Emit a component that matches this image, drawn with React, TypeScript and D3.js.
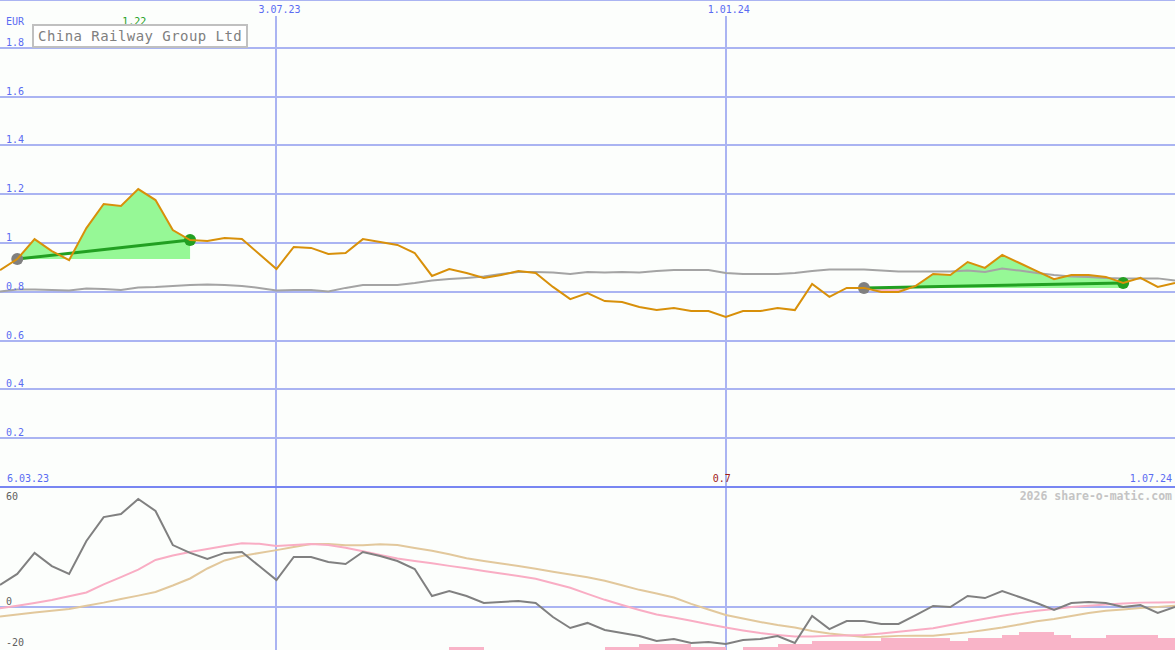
import * as d3 from "d3";

const W = 1175;
const H = 650;

// weekly closes, Mondays 13.03.23 .. 1.07.24
const start = new Date(Date.UTC(2023, 2, 13));
const end = new Date(Date.UTC(2024, 6, 1));
const weeks = d3.utcMonday.range(start, d3.utcDay.offset(end, 1));

const price = [
  0.889, 0.934, 1.016, 0.967, 0.93, 1.061, 1.16, 1.152, 1.221, 1.176,
  1.053, 1.012, 1.008, 1.02, 1.016, 0.955, 0.893, 0.984, 0.98, 0.955,
  0.959, 1.016, 1.004, 0.992, 0.959, 0.865, 0.893, 0.877, 0.857, 0.869,
  0.885, 0.877, 0.82, 0.77, 0.795, 0.762, 0.758, 0.738, 0.725, 0.734,
  0.721, 0.721, 0.697, 0.721, 0.721, 0.734, 0.725, 0.832, 0.779, 0.816,
  0.816, 0.799, 0.799, 0.824, 0.873, 0.869, 0.922, 0.898, 0.951, 0.918,
  0.885, 0.852, 0.869, 0.869, 0.861, 0.836, 0.857, 0.82, 0.836,
];

const benchmark = [
  0.801, 0.809, 0.809, 0.807, 0.805, 0.814, 0.811, 0.807, 0.818, 0.82,
  0.824, 0.828, 0.83, 0.828, 0.824, 0.816, 0.805, 0.807, 0.807, 0.801,
  0.816, 0.828, 0.828, 0.828, 0.836, 0.846, 0.852, 0.857, 0.863, 0.873,
  0.881, 0.881, 0.879, 0.873, 0.881, 0.879, 0.881, 0.879, 0.885, 0.889,
  0.889, 0.889, 0.877, 0.873, 0.873, 0.873, 0.877, 0.885, 0.891, 0.891,
  0.891, 0.887, 0.883, 0.883, 0.883, 0.883, 0.887, 0.881, 0.895, 0.887,
  0.877, 0.869, 0.863, 0.861, 0.857, 0.855, 0.855, 0.855, 0.846,
];

const momentum = [
  12.6, 18.9, 30.9, 23.4, 18.9, 37.7, 51.4, 53.1, 61.7, 54.9,
  35.4, 30.9, 27.4, 30.9, 31.4, 23.4, 15.4, 28.6, 28.6, 25.7,
  24.6, 31.4, 29.1, 26.3, 21.7, 6.3, 9.1, 6.3, 2.3, 2.9,
  3.4, 2.3, -5.7, -12, -9.1, -13.1, -14.9, -16.6, -19.4, -18.3,
  -20.6, -20, -21.1, -18.9, -18.3, -16.6, -20.6, -5.1, -12.6, -8,
  -8, -9.7, -9.7, -4.6, 0.6, 0, 6.3, 5.1, 9.1, 5.7,
  2.3, -1.7, 2.3, 2.9, 2.3, 0, 1.1, -3.4, 0,
];

const signalFast = [
  -0.7, 0.7, 2.3, 4, 6.1, 8.3, 12.9, 17.1, 21.4, 26.9,
  29.4, 31.4, 33.1, 34.9, 36.4, 36.1, 34.9, 35.4, 36, 35.4,
  33.8, 31.8, 29.7, 27.7, 26.3, 25, 23.5, 22.2, 20.6, 19.1,
  17.7, 16.1, 13.6, 11, 7.5, 4.1, 1.1, -1.7, -4.3, -6,
  -7.8, -9.8, -11.7, -13.4, -14.9, -16, -16.9, -16.9, -16.5, -16.3,
  -16, -15.2, -14.2, -13.1, -12.2, -10.3, -8.4, -6.7, -5, -3.5,
  -2.2, -1.1, 0, 0.7, 1.4, 2, 2.5, 2.6, 2.7,
];

const signalSlow = [
  -5.5, -4.3, -3.1, -2.2, -1.1, 0.7, 2.5, 4.6, 6.5, 8.6,
  12.3, 16.3, 22, 26.6, 29.1, 30.9, 32.5, 34.3, 36, 36,
  35.3, 35.3, 35.9, 35.4, 33.7, 32.2, 30.1, 27.9, 26.3, 24.9,
  23.4, 21.9, 20.2, 18.6, 17, 15, 12.4, 9.8, 7.7, 5.4,
  1.8, -1.4, -4.6, -6.6, -8.6, -10.3, -11.7, -13.7, -15.1, -16.2,
  -17.1, -17, -16.5, -16.4, -16.4, -15.4, -14.5, -13.1, -11.7, -10,
  -8.2, -6.9, -5.1, -3.4, -2.1, -1.4, -0.6, 0, 0.7,
];

// one level per week interval
const volumeLevel = [
  0, 0, 0, 0, 0, 0, 0, 0, 0, 0,
  0, 0, 0, 0, 0, 0, 0, 0, 0, 0,
  0, 0, 0, 0, 0, 0, 1, 1, 0, 0,
  0, 0, 0, 0, 0, 1, 1, 2, 2, 2,
  1, 1, 0, 1, 1, 2, 2, 3, 3, 3,
  3, 4, 4, 4, 4, 3, 4, 4, 5, 6,
  6, 5, 4, 4, 5, 5, 5, 4,
];

const trades = [
  { entry: 1, exit: 11 },
  { entry: 50, exit: 65 },
];

const priceTicks = [0.2, 0.4, 0.6, 0.8, 1, 1.2, 1.4, 1.6, 1.8];
const lowerTicks = [60, 0, -20];
const dateTicks = [new Date(Date.UTC(2023, 6, 3)), new Date(Date.UTC(2024, 0, 1))];
const periodStart = "6.03.23";
const periodEnd = "1.07.24";
const title = "China Railway Group Ltd";
const currency = "EUR";
const credit = "2026 share-o-matic.com";

const FONT = "DejaVu Sans Mono, monospace";
const GRID = "#aab4f2";
const BLUE = "#5a6cf2";

export default function App() {
  const x = d3.scaleUtc().domain([start, end]).range([0, W]);
  const y = d3.scaleLinear().domain([0, 2]).range([487, -1]);
  const y2 = d3.scaleLinear().domain([0, 60]).range([607, 502]);
  const vol = d3.scaleLinear().domain([0, 6]).range([650, 631.5]);
  const fmtDate = d3.utcFormat("%-d.%m.%y");
  const fmtPrice = d3.format(".2~f");

  const xi = (i: number) => x(weeks[i]);
  const topLine = d3.line<number>().x((_, i) => xi(i)).y((d) => y(d));
  const lowLine = d3.line<number>().x((_, i) => xi(i)).y((d) => y2(d));

  const iMax = d3.maxIndex(price);
  const iMin = d3.minIndex(price);

  return (
    <svg width={W} height={H} style={{ position: "absolute", left: 0, top: 0, background: "#fcfefc" }}>
      <defs>
        {trades.map((t, k) => {
          const lvl = y(price[t.entry]);
          return (
            <g key={k}>
              <clipPath id={`up${k}`}>
                <rect x={0} y={0} width={W} height={lvl} />
              </clipPath>
              <clipPath id={`dn${k}`}>
                <rect x={0} y={lvl} width={W} height={487 - lvl} />
              </clipPath>
            </g>
          );
        })}
      </defs>

      {/* grid */}
      <g shapeRendering="crispEdges">
        <line x1={0} x2={W} y1={0.5} y2={0.5} stroke={GRID} strokeWidth={1} />
        {priceTicks.map((t) => (
          <line key={t} x1={0} x2={W} y1={Math.round(y(t))} y2={Math.round(y(t))} stroke={GRID} strokeWidth={2} />
        ))}
        <line x1={0} x2={W} y1={y2(0)} y2={y2(0)} stroke={GRID} strokeWidth={2} />
        {dateTicks.map((d) => (
          <line key={+d} x1={Math.round(x(d))} x2={Math.round(x(d))} y1={16} y2={H} stroke={GRID} strokeWidth={2} />
        ))}
        <line x1={0} x2={W} y1={487} y2={487} stroke="#7886f2" strokeWidth={2} />
      </g>

      {/* lower panel */}
      <g fill="#f9b4c8" shapeRendering="crispEdges">
        {volumeLevel.map((v, i) =>
          v > 0 ? (
            <rect key={i} x={xi(i)} width={xi(i + 1) - xi(i)} y={vol(v)} height={vol(0) - vol(v)} />
          ) : null
        )}
      </g>
      <path d={lowLine(signalSlow) ?? ""} fill="none" stroke="#e2c89c" strokeWidth={2} />
      <path d={lowLine(signalFast) ?? ""} fill="none" stroke="#f9adc4" strokeWidth={2} />
      <path d={lowLine(momentum) ?? ""} fill="none" stroke="#808080" strokeWidth={2} />

      {/* trades */}
      {trades.map((t, k) => {
        const lvl = price[t.entry];
        const slice = price.slice(t.entry, t.exit + 1);
        const area = d3
          .area<number>()
          .x((_, j) => xi(t.entry + j))
          .y0(y(lvl))
          .y1((d) => y(d));
        const d = area(slice) ?? "";
        return (
          <g key={k}>
            <path d={d} fill="#96f896" clipPath={`url(#up${k})`} />
            <path d={d} fill="#f9b4c8" clipPath={`url(#dn${k})`} />
          </g>
        );
      })}

      <path d={topLine(benchmark) ?? ""} fill="none" stroke="#a4a4a4" strokeWidth={2} />

      {trades.map((t, k) => (
        <g key={k}>
          <line
            x1={xi(t.entry)}
            y1={y(price[t.entry])}
            x2={xi(t.exit)}
            y2={y(price[t.exit])}
            stroke="#22a022"
            strokeWidth={3}
          />
          <circle cx={xi(t.entry)} cy={y(price[t.entry])} r={6} fill="#808080" />
          <circle cx={xi(t.exit)} cy={y(price[t.exit])} r={6} fill="#22a022" />
        </g>
      ))}

      <path d={topLine(price) ?? ""} fill="none" stroke="#d8900a" strokeWidth={2} />

      {/* text */}
      <g fontFamily={FONT} fontSize={10}>
        <text x={6} y={25} fill={BLUE}>{currency}</text>
        {priceTicks.map((t) => (
          <text key={t} x={6} y={Math.round(y(t)) - 2} fill={BLUE}>
            {String(t)}
          </text>
        ))}
        {dateTicks.map((d) => (
          <text key={+d} x={x(d) + 3} y={13} fill={BLUE} textAnchor="middle">
            {fmtDate(d)}
          </text>
        ))}
        <text x={7} y={482} fill={BLUE}>{periodStart}</text>
        <text x={W - 3} y={482} fill={BLUE} textAnchor="end">{periodEnd}</text>
        {lowerTicks.map((t) => (
          <text key={t} x={6} y={y2(t) + (t < 0 ? 4 : -2)} fill="#606060">
            {String(t)}
          </text>
        ))}
        <text x={xi(iMax) - 4} y={25} fill="#22a022" textAnchor="middle">
          {fmtPrice(price[iMax])}
        </text>
        <text x={xi(iMin) - 4} y={482} fill="#a01818" textAnchor="middle">
          {fmtPrice(price[iMin])}
        </text>
        <text x={W - 3} y={500} fill="#c4c4c4" fontSize={11.5} fontWeight="bold" textAnchor="end">
          {credit}
        </text>
      </g>

      <rect x={33} y={25} width={214} height={22} fill="#ffffff" stroke="#c0c0c0" strokeWidth={2} />
      <text x={38} y={41} fontFamily={FONT} fontSize={14} letterSpacing={0.45} fill="#808080">
        {title}
      </text>
    </svg>
  );
}
